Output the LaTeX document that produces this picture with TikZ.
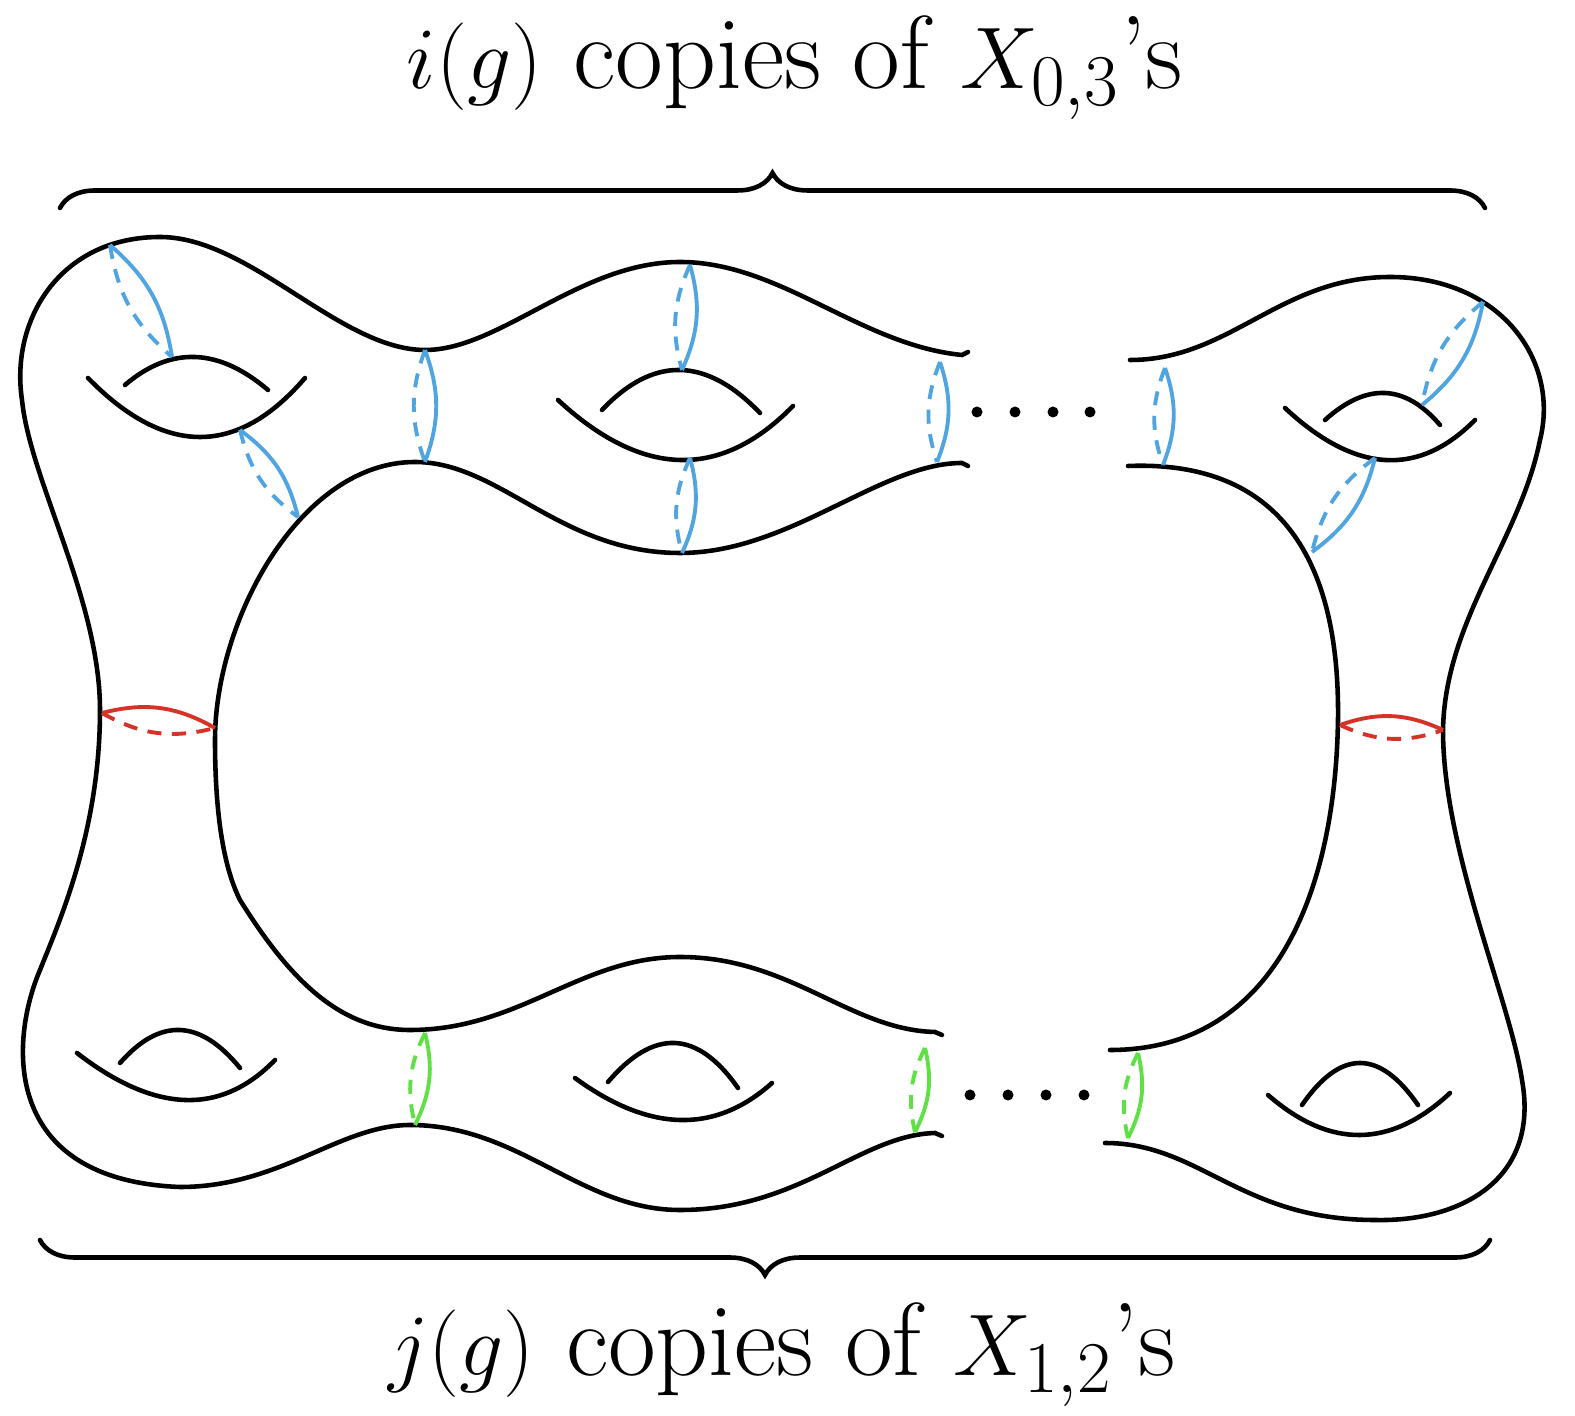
\documentclass[tikz,border=0pt]{standalone}
\usetikzlibrary{decorations.pathreplacing,calc}
\definecolor{seamblue}{RGB}{80,165,225}
\definecolor{seamred}{RGB}{215,50,40}
\definecolor{seamgreen}{RGB}{95,225,70}
\tikzset{
  surf/.style={line width=1.3pt,line cap=round},
  cutsolid/.style={line width=1.1pt},
  cutdash/.style={line width=1.1pt,dashed,dash pattern=on 4pt off 3pt},
}
% seam: solid half on the left of the heading, dashed half on the right
\newcommand\seam[4]{%
  \draw[cutsolid,#3] #1 to[bend left=#4] #2;
  \draw[cutdash,#3] #1 to[bend right=#4] #2;}
% handle arc: parabola through three points
\newcommand\harc[3]{%
  \coordinate (hq) at ($2*(#2)-0.5*(#1)-0.5*(#3)$);
  \draw[surf] (#1) .. controls ($(#1)!2/3!(hq)$) and ($(#3)!2/3!(hq)$) .. (#3);}
\begin{document}
\begin{tikzpicture}[x=0.01cm,y=-0.01cm]
	\useasboundingbox (0,0) rectangle (1575,1416);

	% outer boundary
	\draw[surf] (968,352) -- (962,355) .. controls (860,345) and (780,262) .. (680,262)
		.. controls (580,262) and (500,350) .. (425,350)
		.. controls (340,350) and (250,237) .. (160,237)
		.. controls (60,237) and (10,320) .. (22,400)
		.. controls (30,480) and (100,600) .. (100,710)
		.. controls (100,830) and (60,920) .. (40,970)
		.. controls (10,1040) and (0,1180) .. (180,1187)
		.. controls (280,1187) and (340,1125) .. (410,1125)
		.. controls (520,1125) and (580,1210) .. (680,1210)
		.. controls (800,1210) and (860,1135) .. (935,1133) -- (942,1136);
	\draw[surf] (1130,360) .. controls (1230,360) and (1280,277) .. (1390,277)
		.. controls (1500,277) and (1560,360) .. (1540,440)
		.. controls (1520,540) and (1445,620) .. (1443,730)
		.. controls (1443,850) and (1510,1000) .. (1522,1080)
		.. controls (1540,1180) and (1460,1222) .. (1375,1220)
		.. controls (1240,1220) and (1200,1143) .. (1105,1143);

	% inner boundary
	\draw[surf] (968,466) -- (962,463) .. controls (880,463) and (790,553) .. (680,553)
		.. controls (560,553) and (500,462) .. (415,462)
		.. controls (300,462) and (215,620) .. (215,740)
		.. controls (215,820) and (225,870) .. (240,900)
		.. controls (290,980) and (340,1030) .. (410,1030)
		.. controls (520,1030) and (580,957) .. (680,957)
		.. controls (790,957) and (850,1030) .. (935,1032) -- (942,1035);
	\draw[surf] (1128,466) .. controls (1280,460) and (1340,560) .. (1338,720)
		.. controls (1335,900) and (1270,1050) .. (1110,1050);

	% handles
	\harc{88,378}{200,437}{305,378}
	\harc{125,385}{195,357}{268,390}
	\harc{558,400}{680,460}{793,406}
	\harc{602,410}{680,370}{760,413}
	\harc{1285,408}{1385,460}{1475,420}
	\harc{1325,420}{1385,393}{1440,425}
	\harc{77,1053}{185,1100}{275,1060}
	\harc{120,1063}{180,1030}{240,1068}
	\harc{575,1078}{680,1120}{772,1083}
	\harc{608,1082}{675,1043}{738,1088}
	\harc{1268,1095}{1360,1135}{1450,1093}
	\harc{1302,1105}{1360,1063}{1418,1105}

	% cutting curves
	\seam{(110,245)}{(172,357)}{seamblue}{20}
	\seam{(240,430)}{(298,517)}{seamblue}{20}
	\seam{(425,350)}{(425,462)}{seamblue}{20}
	\seam{(690,265)}{(682,370)}{seamblue}{20}
	\seam{(690,458)}{(682,553)}{seamblue}{20}
	\seam{(940,362)}{(937,462)}{seamblue}{20}
	\seam{(1165,368)}{(1163,465)}{seamblue}{20}
	\seam{(1483,302)}{(1422,405)}{seamblue}{20}
	\seam{(1375,458)}{(1312,552)}{seamblue}{20}
	\seam{(102,713)}{(215,728)}{seamred}{22}
	\seam{(1340,725)}{(1443,730)}{seamred}{22}
	\seam{(425,1033)}{(415,1125)}{seamgreen}{20}
	\seam{(925,1048)}{(915,1132)}{seamgreen}{20}
	\seam{(1138,1053)}{(1128,1138)}{seamgreen}{20}

	% dots
	\foreach \x in {977,1015,1053,1090} \fill (\x,412) circle (5.5);
	\foreach \x in {970,1008,1046,1084} \fill (\x,1095) circle (5.5);

	% braces
	\draw[surf,decorate,decoration={brace,amplitude=0.35cm}] (60,208) -- (1485,208);
	\draw[surf,decorate,decoration={brace,amplitude=0.35cm}] (1490,1240) -- (40,1240);
	\node (toplabel) at (795,68) {\fontsize{29.5}{35}\selectfont$i(g)$ copies of $X_{0,3}$'s};
	\node (botlabel) at (782,1355) {\fontsize{29.5}{35}\selectfont$j(g)$ copies of $X_{1,2}$'s};
\end{tikzpicture}
\end{document}
